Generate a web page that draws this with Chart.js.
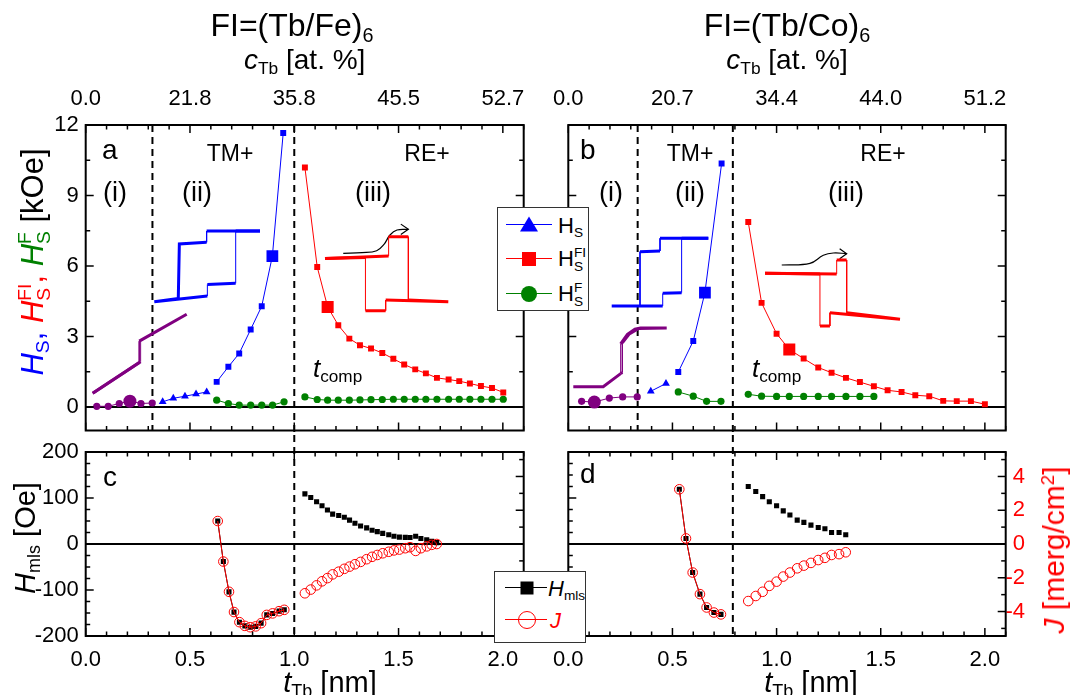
<!DOCTYPE html>
<html><head><meta charset="utf-8">
<script src="https://cdn.jsdelivr.net/npm/chart.js@4.4.1/dist/chart.umd.min.js"></script>
<style>
html,body{margin:0;padding:0;background:#fff;}
#wrap{position:relative;width:1072px;height:695px;overflow:hidden;font-family:"Liberation Sans",Arial,sans-serif;color:#000;}
canvas{position:absolute;}
.t{position:absolute;white-space:nowrap;line-height:1;transform:translate(-50%,-50%);}
.tl{position:absolute;white-space:nowrap;line-height:1;transform:translate(0,-50%);}
.ss{display:inline-flex;flex-direction:column;vertical-align:0.62em;font-size:0.62em;line-height:1.0;font-style:normal;}
.sb{font-size:0.62em;position:relative;top:0.3em;font-style:normal;}
.sp{font-size:0.62em;position:relative;top:-0.55em;font-style:normal;}
.leg{position:absolute;background:#fff;border:1px solid #333;box-sizing:border-box;}
.ln{position:absolute;height:0;}
.sym{position:absolute;transform:translate(-50%,-50%);}
</style></head>
<body><div id="wrap">
<canvas id="ca" width="545" height="435" style="left:0;top:0"></canvas>
<canvas id="cb" width="527" height="435" style="left:545px;top:0"></canvas>
<canvas id="cc" width="545" height="260" style="left:0;top:435px"></canvas>
<canvas id="cd" width="527" height="260" style="left:545px;top:435px"></canvas>
</div>
<script>
// ---------------- DATA ----------------
// top axis labels (c_Tb at. %) at t = 0, 0.5, 1.0, 1.5, 2.0 nm
const aTopLabels = ['0.0','21.8','35.8','45.5','52.7'];
const bTopLabels = ['0.0','20.7','34.4','44.0','51.2'];
const tLabels = ['0.0','0.5','1.0','1.5','2.0'];
const aDividers = [0.32, 1.0];
const bDividers = [0.333, 0.79];

// Panel a: FI=(Tb/Fe)6
const aPurpleT = [0.053,0.108,0.161,0.212,0.265,0.319];
const aPurpleH = [0.03,0.03,0.15,0.25,0.15,0.17];
const aTriT = [0.369,0.42,0.476,0.529,0.58];
const aTriH = [0.22,0.37,0.46,0.55,0.64];
const aBlueT = [0.628,0.684,0.736,0.791,0.844,0.895,0.947];
const aBlueH = [1.07,1.71,2.28,3.30,4.29,6.42,11.66];
const aGreen2T = [0.628,0.684,0.736,0.791,0.844,0.896,0.951];
const aGreen2H = [0.29,0.15,0.08,0.08,0.08,0.08,0.22];
const aRedT = [1.051,1.11,1.16,1.211,1.264,1.315,1.368,1.422,1.475,1.527,1.58,1.631,1.684,1.74,1.791,1.842,1.895,1.948,2.002];
const aRedH = [10.19,5.96,4.26,3.48,2.91,2.63,2.49,2.30,2.05,1.81,1.60,1.43,1.24,1.17,1.10,1.00,0.89,0.81,0.62];
const aGreen3T = [1.051,1.11,1.16,1.211,1.264,1.315,1.368,1.422,1.475,1.527,1.58,1.631,1.684,1.74,1.791,1.842,1.895,1.948,2.002];
const aGreen3H = [0.43,0.32,0.29,0.29,0.29,0.30,0.31,0.32,0.33,0.33,0.33,0.33,0.33,0.33,0.33,0.33,0.33,0.33,0.33];

// Panel b: FI=(Tb/Co)6
const bPurpleT = [0.064,0.125,0.197,0.261,0.331];
const bPurpleH = [0.24,0.21,0.38,0.43,0.43];
const bTriT = [0.396,0.469];
const bTriH = [0.67,1.0];
const bBlueT = [0.528,0.6,0.656,0.736];
const bBlueH = [1.49,2.81,4.87,10.36];
const bGreen2T = [0.528,0.6,0.664,0.733];
const bGreen2H = [0.64,0.46,0.24,0.24];
const bRedT = [0.864,0.928,1.0,1.061,1.13,1.2,1.264,1.333,1.4,1.467,1.533,1.6,1.666,1.733,1.8,1.865,1.933,2.0];
const bRedH = [7.87,4.43,3.12,2.45,2.06,1.68,1.46,1.24,1.06,0.88,0.71,0.64,0.50,0.46,0.26,0.25,0.25,0.12];
const bGreen3T = [0.864,0.928,1.0,1.061,1.13,1.2,1.264,1.333,1.4,1.467];
const bGreen3H = [0.54,0.46,0.45,0.45,0.45,0.45,0.45,0.45,0.45,0.45];

// Panel c: H_mls [Oe] and J [merg/cm2] (Tb/Fe)
const cLeftT = [0.633,0.66,0.687,0.711,0.737,0.763,0.789,0.815,0.841,0.868,0.896,0.927,0.952];
const cLeftH = [50,-38,-104,-148,-170,-178,-181,-179,-172,-154,-151,-146,-143];
const cLeftJ = [1.36,-1.04,-2.83,-4.03,-4.63,-4.85,-4.93,-4.88,-4.69,-4.20,-4.11,-3.98,-3.90];
const cRightT = [1.051,1.079,1.107,1.133,1.159,1.184,1.213,1.240,1.265,1.291,1.318,1.347,1.373,1.398,1.424,1.453,1.478,1.504,1.532,1.555,1.582,1.607,1.635,1.659,1.683];
const cRightH = [109,101,92,83,74,65,62,58,52,45,39,35,30,27,23,20,17,15,14.5,14,17,12,9,6,3];
const cRightJ = [-2.92,-2.70,-2.45,-2.21,-2.02,-1.80,-1.64,-1.47,-1.34,-1.20,-1.06,-0.90,-0.76,-0.65,-0.55,-0.46,-0.38,-0.33,-0.25,-0.19,-0.41,-0.25,-0.14,-0.05,0.0];

// Panel d: (Tb/Co)
const dLeftT = [0.533,0.565,0.597,0.632,0.664,0.699,0.733];
const dLeftH = [119,12,-62,-109,-138,-149,-153];
const dLeftJ = [3.24,0.33,-1.69,-2.97,-3.76,-4.06,-4.17];
const dRightT = [0.864,0.9,0.933,0.965,1.0,1.032,1.064,1.099,1.131,1.165,1.2,1.232,1.264,1.3,1.332];
const dRightH = [125,114,103,92,83,72,63,52,47,41,36,33,25,25,20];
const dRightJ = [-3.38,-3.08,-2.83,-2.48,-2.23,-1.93,-1.69,-1.44,-1.28,-1.12,-0.95,-0.82,-0.65,-0.60,-0.49];

// Inset hysteresis loops (field h, moment m, arbitrary 0-100 units)
const insAPurpleH = [0,51,51,100,49.5,49.5,0];
const insAPurpleM = [0,40,67,100,66,39,0];
const insABlueH = [100,49.5,49.5,23.7,22.7,0,50.2,50.2,77,77,100];
const insABlueM = [100,100,84,81.6,4.7,0,8,24.5,26,100,100];
const insARedH = [0,51.6,51.6,67.6,67.6,100,49.2,49.2,32.8,32.8,0];
const insARedM = [70.7,73.9,100,100,14.4,12.2,14.4,0,0,72,70.7];
const insAArrowH = [14.8,30,41.9,48,52.7,58.4,67.6];
const insAArrowM = [77.6,78.5,81.1,90,102.3,109,110];
const insAHeadH = [61.5,67.6,61.5];
const insAHeadM = [117,110,103];
const insBPurpleH = [0,32,50.7,50.7,58,66,72,100,70,60,52.5,52.5,50.7];
const insBPurpleM = [0,0,22,72,88,97,99,99,98,89,74,24,22];
const insBBlueH = [100,50,50,29.3,29.3,0,52.8,52.8,72.4,72.4,100];
const insBBlueM = [100,100,81.3,80.3,0,0,0,18.7,19.7,100,100];
const insBRedH = [0,53.1,53.1,60.5,60.5,100,48.1,48.1,40.7,40.7,0];
const insBRedM = [79.8,78.8,100,100,20.2,10.2,20.2,0,0,78.8,79.8];
const insBArrowH = [12.4,33.3,43.2,50.6,60.5];
const insBArrowM = [92.4,94.9,107.1,110.6,109.6];
const insBHeadH = [55.3,60.5,55.3];
const insBHeadM = [117.2,109.6,102];

// ---------------- LAYOUT ----------------
const FONT = '"Liberation Sans", Arial, sans-serif';
const BLUE='#0000ff', RED='#ff0000', GREEN='#008000', PURPLE='#800080';
const AREA = {
  a:{L:85.7,T:125,R:523.7,B:430.5,W:545,H:435},
  b:{L:23.3,T:125,R:460.7,B:430.5,W:527,H:435},
  c:{L:85.7,T:17,R:523.7,B:201,W:545,H:260},
  d:{L:23.3,T:17,R:460.7,B:201,W:527,H:260}
};
const INSETS = {
  aPurple:[92.7,186.7,314.3,393.3], aBlue:[154.3,260,231,301.7], aRed:[325,448.3,236.7,310.7],
  bPurple:[573.3,666.7,327.3,386.7], bBlue:[611.7,708.3,238.3,306], bRed:[765,900,260,326]
};
const PAGE_OFF = {a:[0,0], b:[545,0]};

function pts(xs, ys){ return xs.map((x,i)=>({x:x, y:ys[i]})); }
function insetScales(id, panel, box){
  const A = AREA[panel], off = PAGE_OFF[panel];
  const x0=box[0]-off[0], x1=box[1]-off[0], y0=box[2]-off[1], y1=box[3]-off[1];
  const sx = 100/(x1-x0), sy = 100/(y1-y0);
  const o = {};
  o['ix'+id] = {type:'linear', display:false, min: -(x0-A.L)*sx, max: 100+(A.R-x1)*sx};
  o['iy'+id] = {type:'linear', display:false, min: -(A.B-y1)*sy, max: 100+(y0-A.T)*sy};
  return o;
}
const segW = {borderWidth: ctx => Math.abs(ctx.p0.x-ctx.p1.x) < 0.8 ? 1 : 3};
function loopDS(id, hs, ms, color, extra){
  return Object.assign({data:pts(hs,ms), xAxisID:'ix'+id, yAxisID:'iy'+id, showLine:true,
    borderColor:color, backgroundColor:color, pointRadius:0, borderWidth:3, segment:segW, tension:0}, extra||{});
}
function markDS(xs, ys, color, style, radius, extra){
  return Object.assign({data:pts(xs,ys), xAxisID:'x', yAxisID:'y', showLine:true, borderColor:color,
    backgroundColor:color, borderWidth:1, pointStyle:style, pointRadius:radius, pointBorderWidth:0, tension:0}, extra||{});
}
function bigAt(n, idx, r, R){ const a=[]; for(let i=0;i<n;i++) a.push(i===idx?R:r); return a; }

// ---------------- PLUGIN: frame, inward ticks, zero line, dashed dividers -------------
const framePlugin = {
  id:'frame',
  beforeDatasetsDraw(chart, args, o){
    const ctx = chart.ctx, ca = chart.chartArea;
    ctx.save();
    if (o.zero){
      const y = chart.scales[o.zero].getPixelForValue(0);
      ctx.strokeStyle='#000'; ctx.lineWidth=2; ctx.beginPath(); ctx.moveTo(ca.left,y); ctx.lineTo(ca.right,y); ctx.stroke();
    }
    (o.dashes||[]).forEach(d=>{
      const x = chart.scales.x.getPixelForValue(d.v);
      ctx.strokeStyle='#000'; ctx.lineWidth=2; ctx.setLineDash([7,5]);
      ctx.beginPath(); ctx.moveTo(x, d.up?0:ca.top); ctx.lineTo(x, d.down?chart.height:ca.bottom); ctx.stroke();
    });
    ctx.restore();
  },
  afterDatasetsDraw(chart, args, o){
    const ctx = chart.ctx, ca = chart.chartArea;
    ctx.save();
    ctx.strokeStyle='#000'; ctx.lineWidth=1.5;
    (o.ticks||[]).forEach(s=>{
      const sc = chart.scales[s.id];
      const n0 = Math.ceil(sc.min/s.minor - 1e-9), n1 = Math.floor(sc.max/s.minor + 1e-9);
      for (let n=n0;n<=n1;n++){
        const v = n*s.minor;
        const r = v/s.major;
        const len = Math.abs(r-Math.round(r))<1e-6 ? 8 : 4.5;
        const p = sc.getPixelForValue(v);
        ctx.beginPath();
        if (s.side==='bottom'){ ctx.moveTo(p,ca.bottom); ctx.lineTo(p,ca.bottom-len); }
        else if (s.side==='top'){ ctx.moveTo(p,ca.top); ctx.lineTo(p,ca.top+len); }
        else if (s.side==='left'){ ctx.moveTo(ca.left,p); ctx.lineTo(ca.left+len,p); }
        else { ctx.moveTo(ca.right,p); ctx.lineTo(ca.right-len,p); }
        ctx.stroke();
      }
    });
    ctx.lineWidth=2; ctx.strokeRect(ca.left, ca.top, ca.right-ca.left, ca.bottom-ca.top);
    ctx.restore();
  }
};
Chart.register(framePlugin);
Chart.defaults.font.family = FONT;
Chart.defaults.color = '#000';

const noGrid = {display:false, drawTicks:false};
const noBorder = {display:false};
function fixW(w){ return s=>{ s.width=w; s.paddingTop=0; s.paddingBottom=0; }; }
function fixH(h){ return s=>{ s.height=h; s.paddingLeft=0; s.paddingRight=0; }; }

function baseOpts(pad, scales, frame){
  return {
    responsive:false, animation:false, devicePixelRatio:1,
    layout:{padding:pad},
    scales: scales,
    plugins:{legend:{display:false}, tooltip:{enabled:false}, frame: frame}
  };
}

function topPanel(panel, canvasId, topLabels, leftLabels, d, insets, dividers){
  const A = AREA[panel];
  const y = {type:'linear', position:'left', min:-1, max:12, display:leftLabels, grid:noGrid, border:noBorder,
       ticks:{stepSize:3, includeBounds:false, autoSkip:false, padding:7, font:{size:22}, callback:v=>String(v)}};
  if (leftLabels) y.afterFit = fixW(A.L);
  const s = {
    x:{type:'linear', position:'top', min:0, max:2.1, afterFit:fixH(A.T), grid:noGrid, border:noBorder,
       ticks:{stepSize:0.5, includeBounds:false, autoSkip:false, maxRotation:0, padding:13, font:{size:22},
              callback:v=>topLabels[Math.round(v/0.5)]}},
    y:y
  };
  Object.keys(insets).forEach(k=>Object.assign(s, insetScales(k, panel, insets[k])));
  const opts = baseOpts({left: leftLabels?0:A.L, top:0, right:A.W-A.R, bottom:A.H-A.B}, s,
    {zero:'y', dashes:[{v:dividers[0]},{v:dividers[1],down:true}],
     ticks:[{id:'x',side:'bottom',major:0.5,minor:0.1},{id:'x',side:'top',major:0.5,minor:0.1},
            {id:'y',side:'left',major:3,minor:1.5},{id:'y',side:'right',major:3,minor:1.5}]});
  return new Chart(document.getElementById(canvasId), {type:'scatter', data:{datasets:d}, options:opts});
}

const aInsets = {aPurple:INSETS.aPurple, aBlue:INSETS.aBlue, aRed:INSETS.aRed};
const aDS = [
  loopDS('aPurple', insAPurpleH, insAPurpleM, PURPLE),
  loopDS('aBlue', insABlueH, insABlueM, BLUE),
  loopDS('aRed', insARedH, insARedM, RED),
  loopDS('aRed', insAArrowH, insAArrowM, '#000', {segment:undefined, borderWidth:1.2, tension:0.4}),
  loopDS('aRed', insAHeadH, insAHeadM, '#000', {segment:undefined, borderWidth:1.2}),
  markDS(aPurpleT, aPurpleH, PURPLE, 'circle', bigAt(6,3,3.6,6.5)),
  markDS(aTriT, aTriH, BLUE, 'triangle', 4.5),
  markDS(aBlueT, aBlueH, BLUE, 'rect', bigAt(7,5,4.2,8.3)),
  markDS(aGreen2T, aGreen2H, GREEN, 'circle', 3.6),
  markDS(aRedT, aRedH, RED, 'rect', bigAt(19,2,4.2,8.5)),
  markDS(aGreen3T, aGreen3H, GREEN, 'circle', 3.6)
];
topPanel('a','ca', aTopLabels, true, aDS, aInsets, aDividers);

const bInsets = {bPurple:INSETS.bPurple, bBlue:INSETS.bBlue, bRed:INSETS.bRed};
const bDS = [
  loopDS('bPurple', insBPurpleH, insBPurpleM, PURPLE),
  loopDS('bBlue', insBBlueH, insBBlueM, BLUE),
  loopDS('bRed', insBRedH, insBRedM, RED),
  loopDS('bRed', insBArrowH, insBArrowM, '#000', {segment:undefined, borderWidth:1.2, tension:0.4}),
  loopDS('bRed', insBHeadH, insBHeadM, '#000', {segment:undefined, borderWidth:1.2}),
  markDS(bPurpleT, bPurpleH, PURPLE, 'circle', bigAt(5,1,3.6,6.5)),
  markDS(bTriT, bTriH, BLUE, 'triangle', 4.5),
  markDS(bBlueT, bBlueH, BLUE, 'rect', bigAt(4,2,4.2,8.3)),
  markDS(bGreen2T, bGreen2H, GREEN, 'circle', 3.6),
  markDS(bRedT, bRedH, RED, 'rect', bigAt(18,3,4.2,8.5)),
  markDS(bGreen3T, bGreen3H, GREEN, 'circle', 3.6)
];
topPanel('b','cb', bTopLabels, false, bDS, bInsets, bDividers);

function bottomPanel(panel, canvasId, leftLabels, rightLabels, d, divider){
  const A = AREA[panel];
  const y = {type:'linear', position:'left', min:-200, max:200, display:leftLabels, grid:noGrid, border:noBorder,
       ticks:{stepSize:100, includeBounds:false, autoSkip:false, padding:7, font:{size:22}, callback:v=>String(v)}};
  if (leftLabels) y.afterFit = fixW(A.L);
  const yJ = {type:'linear', position:'right', min:-5.45, max:5.45, display:rightLabels, grid:noGrid, border:noBorder,
       ticks:{stepSize:2, includeBounds:false, autoSkip:false, crossAlign:'far', color:RED, font:{size:22}, callback:v=>String(v)}};
  if (rightLabels) yJ.afterFit = fixW(19.3);
  const s = {
    x:{type:'linear', position:'bottom', min:0, max:2.1, afterFit:fixH(A.H-A.B), grid:noGrid, border:noBorder,
       ticks:{stepSize:0.5, includeBounds:false, autoSkip:false, maxRotation:0, padding:11, font:{size:22},
              callback:v=>tLabels[Math.round(v/0.5)]}},
    y:y, yJ:yJ
  };
  const padR = rightLabels ? (A.W-A.R-19.3) : (A.W-A.R);
  const opts = baseOpts({left: leftLabels?0:A.L, top:A.T, right:padR, bottom:0}, s,
    {zero:'y', dashes:[{v:divider, up:true}],
     ticks:[{id:'x',side:'bottom',major:0.5,minor:0.1},{id:'x',side:'top',major:0.5,minor:0.1},
            {id:'y',side:'left',major:100,minor:25},{id:'yJ',side:'right',major:2,minor:1}]});
  return new Chart(document.getElementById(canvasId), {type:'scatter', data:{datasets:d}, options:opts});
}
function jDS(xs, ys, line){
  return {data:pts(xs,ys), xAxisID:'x', yAxisID:'yJ', showLine:line, borderColor:RED, backgroundColor:'rgba(0,0,0,0)',
    borderWidth:1, pointStyle:'circle', pointRadius:4.8, pointBorderWidth:1, pointBorderColor:RED};
}
function hDS(xs, ys, line){
  return {data:pts(xs,ys), xAxisID:'x', yAxisID:'y', showLine:line, borderColor:'#000', backgroundColor:'#000',
    borderWidth:1, pointStyle:'rect', pointRadius:3.6, pointBorderWidth:0};
}
bottomPanel('c','cc', true, false, [jDS(cLeftT,cLeftJ,true), hDS(cLeftT,cLeftH,true), jDS(cRightT,cRightJ,false), hDS(cRightT,cRightH,false)], aDividers[1]);
bottomPanel('d','cd', false, true, [jDS(dLeftT,dLeftJ,true), hDS(dLeftT,dLeftH,true), jDS(dRightT,dRightJ,false), hDS(dRightT,dRightH,false)], bDividers[1]);

// ---------------- TEXT & LEGENDS ----------------
const wrap = document.getElementById('wrap');
function txt(html, x, y, size, opt){
  opt = opt||{};
  const e = document.createElement('div');
  e.className = opt.left ? 'tl' : 't';
  e.style.left = x+'px'; e.style.top = y+'px'; e.style.fontSize = size+'px';
  if (opt.color) e.style.color = opt.color;
  if (opt.rot!=null){ e.className='t'; e.style.transform='translate(-50%,-50%) rotate('+opt.rot+'deg)'; }
  e.innerHTML = html; wrap.appendChild(e); return e;
}
const SS = (a,b)=>'<span class="ss"><span>'+a+'</span><span>'+b+'</span></span>';
txt('FI=(Tb/Fe)<span class="sb">6</span>', 292, 25, 32);
txt('<i>c</i><span class="sb">Tb</span> [at. %]', 304.7, 60, 28);
txt('FI=(Tb/Co)<span class="sb">6</span>', 787, 25, 32);
txt('<i>c</i><span class="sb">Tb</span> [at. %]', 787, 60, 28);
txt('<span style="color:'+BLUE+'"><i>H</i><span class="sb">S</span>,</span> <span style="color:'+RED+'"><i>H</i>'+SS('FI','S')+',</span> <span style="color:'+GREEN+'"><i>H</i>'+SS('F','S')+'</span> [kOe]', 34, 262, 31, {rot:-90});
txt('<i>H</i><span class="sb">mls</span> [Oe]', 25, 538, 29, {rot:-90});
txt('<i>J</i> [merg/cm<span class="sp">2</span>]', 1054, 550, 30, {rot:-90, color:RED});
txt('<i>t</i><span class="sb">Tb</span> [nm]', 330, 682, 29);
txt('<i>t</i><span class="sb">Tb</span> [nm]', 811, 682, 29);
txt('a', 102, 150, 28, {left:true});
txt('TM+', 230, 153, 23);
txt('(i)', 115, 192, 27);
txt('(ii)', 197, 192, 27);
txt('RE+', 427, 153, 23);
txt('(iii)', 373, 192, 27);
txt('<i>t</i><span class="sb" style="font-size:0.66em">comp</span>', 313, 368, 26, {left:true});
txt('b', 580, 150, 28, {left:true});
txt('TM+', 690, 153, 23);
txt('(i)', 611, 192, 27);
txt('(ii)', 690, 192, 27);
txt('RE+', 883, 153, 23);
txt('(iii)', 846, 192, 27);
txt('<i>t</i><span class="sb" style="font-size:0.66em">comp</span>', 752, 368, 26, {left:true});
txt('c', 103, 477, 28, {left:true});
txt('d', 580, 474, 28, {left:true});

function box(l,t,w,h){ const e=document.createElement('div'); e.className='leg'; e.style.left=l+'px'; e.style.top=t+'px'; e.style.width=w+'px'; e.style.height=h+'px'; wrap.appendChild(e); }
function lineAt(x0,x1,y,c,w){ const e=document.createElement('div'); e.className='ln'; e.style.left=x0+'px'; e.style.top=(y-w/2)+'px'; e.style.width=(x1-x0)+'px'; e.style.borderTop=w+'px solid '+c; wrap.appendChild(e); }
function sym(x,y,css){ const e=document.createElement('div'); e.className='sym'; e.style.left=x+'px'; e.style.top=y+'px'; e.style.cssText += css; wrap.appendChild(e); }
box(497,207,92,104);
lineAt(506,552,225,BLUE,1.2); sym(529,224,'width:0;height:0;border-left:9px solid transparent;border-right:9px solid transparent;border-bottom:15px solid '+BLUE+';');
txt('H<span class="sb">S</span>', 558, 226, 22, {left:true});
lineAt(506,552,259,RED,1.2); sym(529,259,'width:14px;height:14px;background:'+RED+';');
txt('H'+SS('FI','S'), 558, 260, 22, {left:true});
lineAt(506,552,294,GREEN,1.2); sym(529,294,'width:16px;height:16px;border-radius:50%;background:'+GREEN+';');
txt('H'+SS('F','S'), 558, 295, 22, {left:true});

box(494,571,92,72);
lineAt(505,547,588,'#000',1.2); sym(527,588,'width:13px;height:13px;background:#000;');
txt('<i>H</i><span class="sb">mls</span>', 548, 589, 22, {left:true});
lineAt(505,547,620,RED,1.2); sym(527,620,'width:18px;height:18px;border-radius:50%;border:1.3px solid '+RED+';box-sizing:border-box;');
txt('<i>J</i>', 550, 621, 22, {left:true, color:RED});
</script>
</body></html>
